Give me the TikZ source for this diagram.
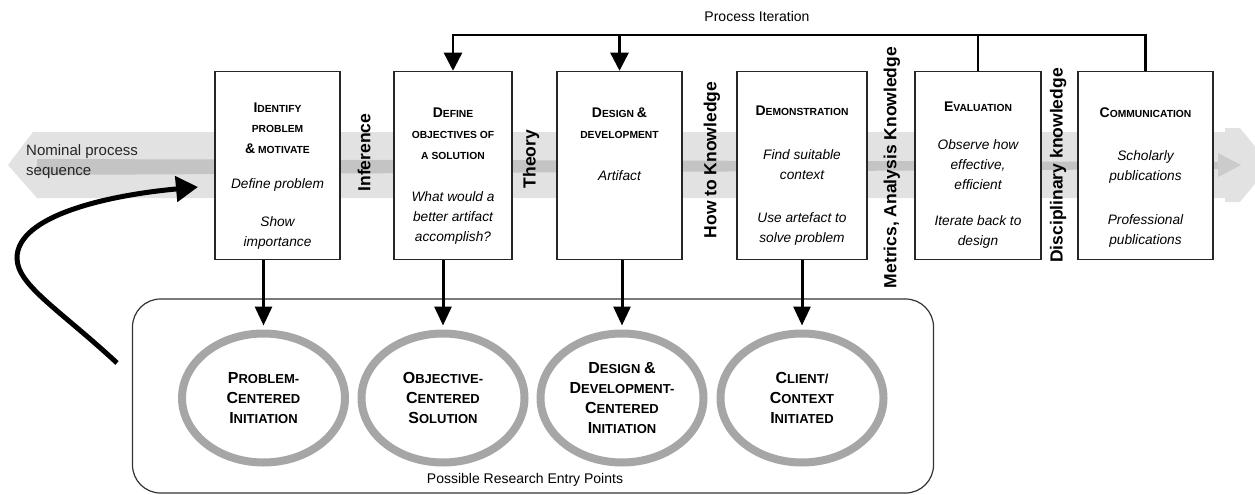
\documentclass[tikz,border=0pt]{standalone}
\usepackage{fontspec}
\setmainfont{Liberation Sans}
\usetikzlibrary{arrows.meta,shapes.geometric}
\definecolor{bandc}{HTML}{E2E2E2}
\definecolor{stripec}{HTML}{C4C4C4}
\definecolor{tipc}{HTML}{CBCBCB}
\definecolor{ellc}{HTML}{A6A6A6}
\definecolor{framec}{HTML}{333333}
\newcommand\Bg[1]{{\fontsize{14}{20.5}\selectfont #1}}
\newcommand\Eg[1]{{\fontsize{16}{20}\selectfont #1}}
\begin{document}
\begin{tikzpicture}[x=1pt,y=-1pt,
 pbox/.style={draw=black!85, line width=1.5pt, fill=white, minimum height=188pt, inner sep=0pt},
 head/.style={font=\fontsize{10.3}{20.5}\selectfont\bfseries, align=center, inner sep=0pt},
 ital/.style={font=\fontsize{13.7}{20}\selectfont\itshape, align=center, inner sep=0pt},
 know/.style={font=\fontsize{17.5}{20}\selectfont\bfseries, rotate=90, inner sep=0pt},
 ell/.style={ellipse, draw=ellc, line width=8pt, fill=white, minimum width=163pt, minimum height=129pt, inner sep=0pt, align=center, font=\fontsize{13}{20}\selectfont\bfseries},
 darr/.style={line width=3pt, -{Triangle[length=19pt,width=17pt]}},
 itl/.style={line width=2.5pt},
 itarr/.style={line width=2.5pt, -{Triangle[length=18pt,width=18pt]}},
 lbl/.style={font=\fontsize{14}{17}\selectfont, inner sep=0pt}
]
\useasboundingbox (0,0) rectangle (1255,495);

% background process band
\fill[bandc] (33,132) -- (1225,132) -- (1225,128) -- (1240,128) -- (1258,150) -- (1258,180)
  -- (1240,202) -- (1225,202) -- (1225,198) -- (37,198) -- (8,165) -- cycle;
\fill[stripec] (37,159) -- (1220,162) -- (1220,169) -- (37,175) -- cycle;
\fill[tipc] (1218,153) -- (1241,165) -- (1218,177) -- cycle;
\node[font=\fontsize{15}{20}\selectfont, align=left, anchor=west, inner sep=0pt, text=black!85] (nps) at (26,162) {Nominal process\\sequence};

% entry point frame
\node[draw=framec, line width=1.2pt, rounded corners=28pt, minimum width=801pt, minimum height=194pt, inner sep=0pt] (R) at (533,396) {};
\node[lbl] (pre) at (525,480) {Possible Research Entry Points};

% ellipses
\node[ell] (E1) at (263.5,398) {\Eg{P}ROBLEM-\\\Eg{C}ENTERED\\\Eg{I}NITIATION};
\node[ell] (E2) at (443,398) {\Eg{O}BJECTIVE-\\\Eg{C}ENTERED\\\Eg{S}OLUTION};
\node[ell] (E3) at (622,398) {\Eg{D}ESIGN \Eg{\&}\\\Eg{D}EVELOPMENT-\\\Eg{C}ENTERED\\\Eg{I}NITIATION};
\node[ell] (E4) at (802,398) {\Eg{C}LIENT/\\\Eg{C}ONTEXT\\\Eg{I}NITIATED};

% process boxes
\node[pbox, minimum width=125pt] (B1) at (277.5,165.5) {};
\node[pbox, minimum width=118pt] (B2) at (453,165.5) {};
\node[pbox, minimum width=125pt] (B3) at (619.5,165.5) {};
\node[pbox, minimum width=130pt] (B4) at (802,165.5) {};
\node[pbox, minimum width=126pt] (B5) at (978,165.5) {};
\node[pbox, minimum width=135pt] (B6) at (1145.5,165.5) {};

% box texts
\node[head] (h1) at (277.5,128) {\Bg{I}DENTIFY\\PROBLEM\\\Bg{\&} MOTIVATE};
\node[ital] (i1a) at (277.5,185) {Define problem};
\node[ital] (i1b) at (277.5,233) {Show\\importance};

\node[head, font=\fontsize{10.3}{21}\selectfont\bfseries] (h2) at (453,134) {\Bg{D}EFINE\\OBJECTIVES OF\\A SOLUTION};
\node[ital] (i2a) at (453,218) {What would a\\better artifact\\accomplish?};

\node[head] (h3) at (619.5,123) {\Bg{D}ESIGN \Bg{\&}\\DEVELOPMENT};
\node[ital] (i3a) at (619.5,176) {Artifact};

\node[head] (h4) at (802,111) {\Bg{D}EMONSTRATION};
\node[ital] (i4a) at (802,165) {Find suitable\\context};
\node[ital] (i4b) at (802,228.5) {Use artefact to\\solve problem};

\node[head] (h5) at (978,107) {\Bg{E}VALUATION};
\node[ital] (i5a) at (978,165) {Observe how\\effective,\\efficient};
\node[ital] (i5b) at (978,232) {Iterate back to\\design};

\node[head] (h6) at (1145.5,113) {\Bg{C}OMMUNICATION};
\node[ital] (i6a) at (1145.5,166.5) {Scholarly\\publications};
\node[ital] (i6b) at (1145.5,230.5) {Professional\\publications};

% knowledge labels
\node[know] (k1) at (364,152.5) {Inference};
\node[know] (k2) at (531,159) {Theory};
\node[know] (k3) at (712,160) {How to Knowledge};
\node[know] (k4) at (892,167.5) {Metrics, Analysis Knowledge};
\node[know] (k5) at (1058,165.5) {Disciplinary knowledge};

% process iteration
\coordinate (PI) at (453,35);
\node[lbl] (pit) at (757,16) {Process Iteration};
\draw[itarr] (B6.north) |- (PI) -- (B2.north);
\draw[itl] (B5.north) -- (B5.north |- PI);
\draw[itarr] (B3.north |- PI) -- (B3.north);

% entry arrows
\draw[darr] (B1.south -| E1.north) -- ([yshift=4pt]E1.north);
\draw[darr] (B2.south -| E2.north) -- ([yshift=4pt]E2.north);
\draw[darr] (B3.south -| E3.north) -- ([yshift=4pt]E3.north);
\draw[darr] (B4.south -| E4.north) -- ([yshift=4pt]E4.north);

% re-entry curve
\coordinate (cs) at (117,363);
\coordinate (ce) at (198,187);
\draw[line width=5pt, -{Triangle[length=22pt,width=25pt]}] (cs) .. controls (60,310) and (17,285) .. (17,258) .. controls (17,215) and (110,195) .. (ce);
\end{tikzpicture}
\end{document}
